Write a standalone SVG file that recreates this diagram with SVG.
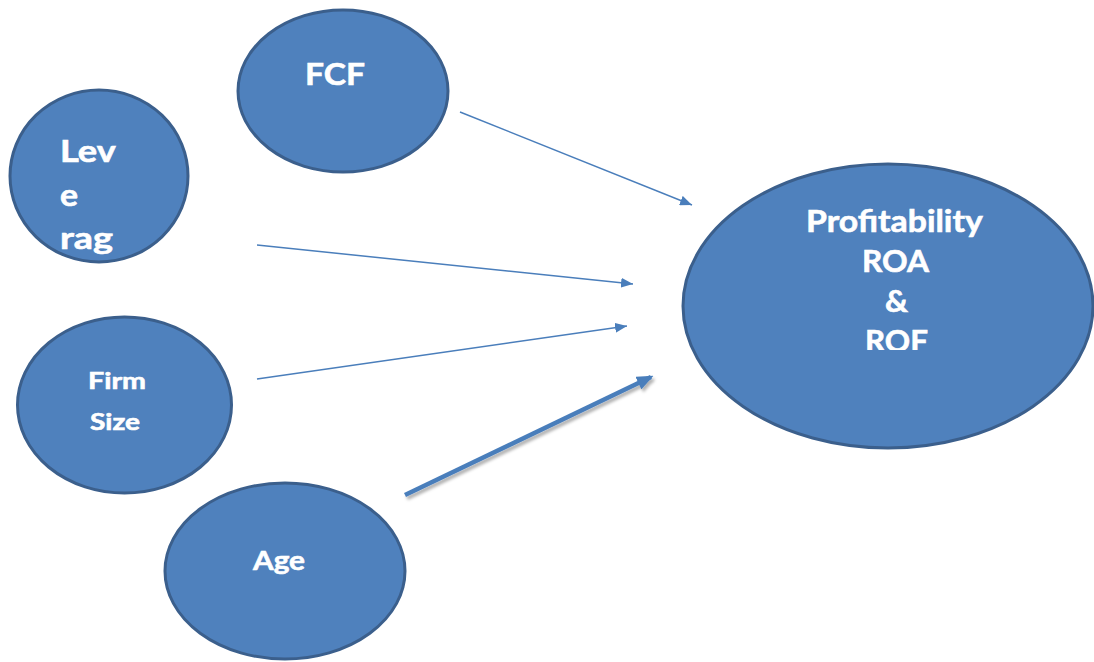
<svg xmlns="http://www.w3.org/2000/svg" width="1094" height="662" viewBox="0 0 1094 662">
  <style>
    .node { fill: #4f81bd; stroke: #3b5f8c; stroke-width: 3; }
    .label { font-family: Lato, "Open Sans", "Liberation Sans", sans-serif; font-weight: bold; fill: #ffffff; stroke: #ffffff; stroke-width: 0.6; }
    .link { stroke: #4a7ebb; stroke-width: 1.5; fill: none; }
    .link-bold { stroke: #4a7ebb; stroke-width: 4.5; fill: none; }
  </style>
  <defs>
    <marker id="head" viewBox="0 0 12 10" refX="12" refY="5" markerWidth="12" markerHeight="10" markerUnits="userSpaceOnUse" orient="auto">
      <path d="M0,0 L12,5 L0,10 Z" fill="#4a7ebb"/>
    </marker>
    <marker id="head-bold" viewBox="0 0 12 10" refX="10" refY="5" markerWidth="17" markerHeight="14" markerUnits="userSpaceOnUse" orient="auto">
      <path d="M0,0 L12,5 L0,10 Z" fill="#4a7ebb"/>
    </marker>
    <filter id="soft-shadow" x="-10%" y="-30%" width="120%" height="160%">
      <feDropShadow dx="2" dy="3" stdDeviation="1.6" flood-color="#000000" flood-opacity="0.3"/>
    </filter>
    <clipPath id="roe-clip">
      <rect x="680" y="160" width="414" height="190"/>
    </clipPath>
  </defs>

  <rect width="1094" height="662" fill="#ffffff"/>

  <g id="connectors">
    <line class="link" x1="460" y1="112" x2="692" y2="205" marker-end="url(#head)"/>
    <line class="link" x1="257" y1="245" x2="633" y2="284" marker-end="url(#head)"/>
    <line class="link" x1="257" y1="379" x2="627" y2="326" marker-end="url(#head)"/>
    <line class="link-bold" x1="405" y1="495" x2="651" y2="377" marker-end="url(#head-bold)" filter="url(#soft-shadow)"/>
  </g>

  <g id="node-fcf">
    <ellipse class="node" cx="343" cy="91" rx="105" ry="81"/>
    <text class="label" x="305" y="85" font-size="31" textLength="60" lengthAdjust="spacingAndGlyphs">FCF</text>
  </g>

  <g id="node-leverage">
    <ellipse class="node" cx="99" cy="176" rx="89" ry="86"/>
    <text class="label" font-size="30">
      <tspan x="60" y="162" textLength="55" lengthAdjust="spacingAndGlyphs">Lev</tspan>
      <tspan x="60" y="206" textLength="18" lengthAdjust="spacingAndGlyphs">e</tspan>
      <tspan x="60" y="249" textLength="53" lengthAdjust="spacingAndGlyphs">rag</tspan>
    </text>
  </g>

  <g id="node-firm-size">
    <ellipse class="node" cx="124.5" cy="405" rx="107" ry="88"/>
    <text class="label" font-size="23">
      <tspan x="88" y="389" textLength="58" lengthAdjust="spacingAndGlyphs">Firm</tspan>
      <tspan x="90" y="430" textLength="50" lengthAdjust="spacingAndGlyphs">Size</tspan>
    </text>
  </g>

  <g id="node-age">
    <ellipse class="node" cx="285" cy="571" rx="120" ry="88"/>
    <text class="label" x="253" y="570" font-size="26" textLength="52" lengthAdjust="spacingAndGlyphs">Age</text>
  </g>

  <g id="node-profitability">
    <ellipse class="node" cx="888" cy="306" rx="205" ry="142"/>
    <text class="label" font-size="31" clip-path="url(#roe-clip)">
      <tspan x="806" y="232" textLength="176" lengthAdjust="spacingAndGlyphs">Profitability</tspan>
      <tspan x="862" y="272" textLength="66" lengthAdjust="spacingAndGlyphs">ROA</tspan>
      <tspan x="885" y="312" textLength="23" lengthAdjust="spacingAndGlyphs">&amp;</tspan>
      <tspan x="865" y="352" textLength="63" lengthAdjust="spacingAndGlyphs">ROF</tspan>
    </text>
  </g>
</svg>
